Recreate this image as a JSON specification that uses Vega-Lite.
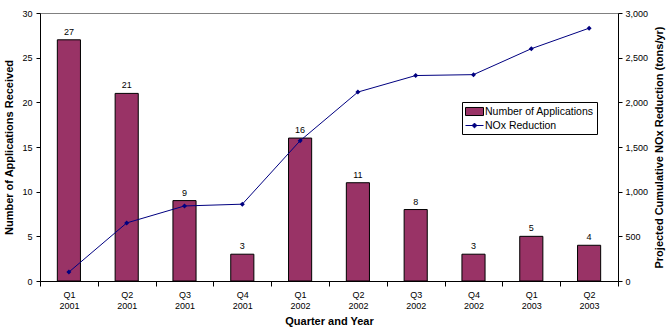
{
  "$schema": "https://vega.github.io/schema/vega-lite/v6.json",
  "width": 578,
  "height": 268,
  "autosize": "none",
  "padding": {"left": 40, "top": 13, "right": 49, "bottom": 50},
  "background": "white",
  "config": {
    "font": "Liberation Sans",
    "view": {"stroke": "#808080", "strokeWidth": 1},
    "axis": {
      "domainColor": "black",
      "tickColor": "black",
      "labelColor": "black",
      "titleColor": "black",
      "labelFont": "Liberation Sans",
      "titleFont": "Liberation Sans",
      "labelFontSize": 9,
      "titleFontSize": 11,
      "titleFontWeight": "bold",
      "grid": false,
      "tickSize": 4
    }
  },
  "datasets": {
    "main": [
      {"q": "Q1 2001", "apps": 27, "nox": 100},
      {"q": "Q2 2001", "apps": 21, "nox": 650},
      {"q": "Q3 2001", "apps": 9, "nox": 840},
      {"q": "Q4 2001", "apps": 3, "nox": 860},
      {"q": "Q1 2002", "apps": 16, "nox": 1570},
      {"q": "Q2 2002", "apps": 11, "nox": 2115},
      {"q": "Q3 2002", "apps": 8, "nox": 2300},
      {"q": "Q4 2002", "apps": 3, "nox": 2310},
      {"q": "Q1 2003", "apps": 5, "nox": 2600},
      {"q": "Q2 2003", "apps": 4, "nox": 2830}
    ]
  },
  "layer": [
    {
      "data": {"name": "main"},
      "encoding": {
        "x": {
          "field": "q", "type": "nominal", "sort": null,
          "scale": {"paddingInner": 0, "paddingOuter": 0},
          "axis": {
            "title": "Quarter and Year",
            "labelAngle": 0,
            "labelExpr": "split(datum.label, ' ')",
            "labelLineHeight": 11,
            "labelBaseline": "top",
            "labelPadding": 4,
            "tickSize": 5,
            "tickBand": "extent",
            "titlePadding": 5
          }
        },
        "y": {
          "field": "apps", "type": "quantitative",
          "scale": {"domain": [0, 30], "nice": false},
          "axis": {
            "title": "Number of Applications Received",
            "values": [0, 5, 10, 15, 20, 25, 30],
            "labelPadding": 4,
            "titlePadding": 7
          }
        }
      },
      "layer": [
        {"mark": {"type": "bar", "fill": "#993366", "stroke": "black", "strokeWidth": 1, "width": {"band": 0.4}}},
        {"mark": {"type": "text", "dy": -8, "fontSize": 9, "color": "black", "font": "Liberation Sans"},
         "encoding": {"text": {"field": "apps", "type": "quantitative"}}}
      ]
    },
    {
      "data": {"name": "main"},
      "mark": {"type": "line", "color": "#000080", "strokeWidth": 1,
               "point": {"shape": "diamond", "size": 25, "filled": true, "color": "#000080"}},
      "encoding": {
        "x": {"field": "q", "type": "nominal", "sort": null},
        "y": {
          "field": "nox", "type": "quantitative",
          "scale": {"domain": [0, 3000], "nice": false},
          "axis": {
            "orient": "right",
            "title": "Projected Cumulative NOx Reduction (tons/yr)",
            "values": [0, 500, 1000, 1500, 2000, 2500, 3000],
            "format": ",d",
            "labelPadding": 3,
            "titleAngle": 270,
            "titleBaseline": "top",
            "titlePadding": 6
          }
        }
      }
    },
    {
      "data": {"values": []},
      "mark": {"type": "point", "filled": true},
      "encoding": {
        "fill": {"field": "series", "type": "nominal",
          "scale": {"domain": ["Number of Applications", "NOx Reduction"], "range": ["#993366", "#000080"]}},
        "stroke": {"field": "series", "type": "nominal",
          "scale": {"domain": ["Number of Applications", "NOx Reduction"], "range": ["black", "#000080"]}},
        "shape": {"field": "series", "type": "nominal",
          "scale": {"domain": ["Number of Applications", "NOx Reduction"],
                    "range": ["M-1.5,-0.67H1.5V0.67H-1.5Z", "M-1.5,0H1.5M0,-0.4L0.4,0L0,0.4L-0.4,0Z"]},
          "legend": {
            "orient": "none", "legendX": 422, "legendY": 89, "title": null,
            "strokeColor": "black", "fillColor": "white", "padding": 3,
            "symbolSize": 144, "symbolStrokeWidth": 1, "symbolOffset": 3,
            "labelFontSize": 10.5, "labelFont": "Liberation Sans", "labelColor": "black",
            "labelOffset": 4, "rowPadding": 1, "labelLimit": 200, "symbolOpacity": 1
          }
        }
      }
    }
  ],
  "resolve": {"scale": {"y": "independent"}}
}
